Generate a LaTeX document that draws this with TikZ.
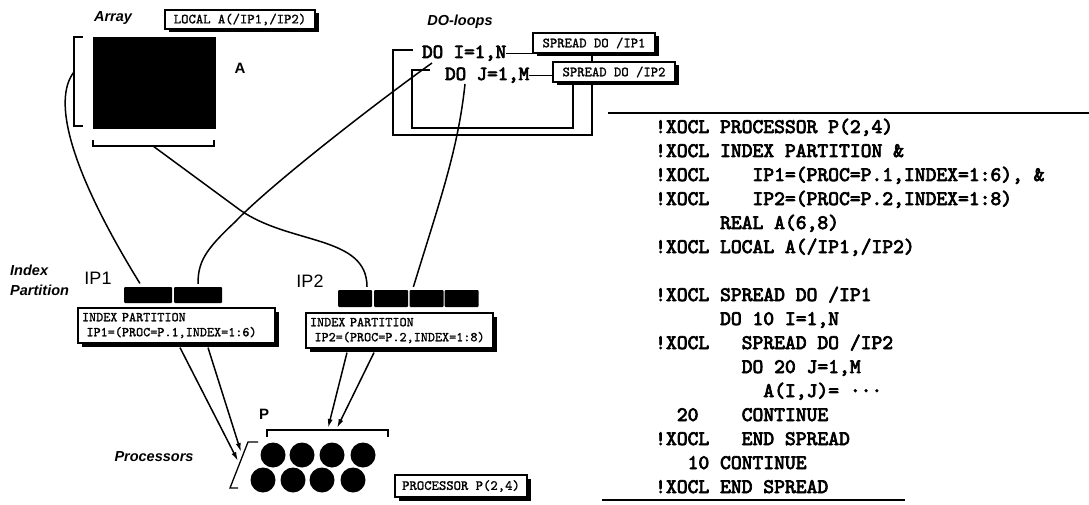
\documentclass[tikz,border=0pt]{standalone}
\usepackage{fontspec}
\setsansfont{Liberation Sans}
\newfontfamily\codefont{lmmono10-regular}[Extension=.otf, FakeBold=3.5]
\newfontfamily\tagfont{lmmono10-regular}[Extension=.otf, FakeBold=1.2]
\usetikzlibrary{arrows.meta}
\newcommand\boxshadow[4]{% cx, cy, w, h
  \fill[black] (#1-#3/2+3.5, #2-#4/2+3.5) rectangle (#1+#3/2+3.5, #2+#4/2+3.5);}
\begin{document}
\begin{tikzpicture}[x=1pt,y=-1pt,
  lbl/.style={font=\sffamily\bfseries\itshape\fontsize{14.5}{20}\selectfont, inner sep=0},
  biglbl/.style={font=\sffamily\fontsize{18}{20}\selectfont, inner sep=0},
  boldlbl/.style={font=\sffamily\bfseries\fontsize{15}{18}\selectfont, inner sep=0},
  tag/.style={draw, line width=1.2pt, fill=white, inner sep=0, font=\tagfont\fontsize{14}{15}\selectfont},
  iptag/.style={tag, font=\tagfont\fontsize{13.5}{15}\selectfont, align=left, minimum height=35pt, inner xsep=4pt},
  blk/.style={fill=black, rounded corners=1pt, inner sep=0},
  conn/.style={line width=1.5pt},
  brk/.style={line width=1.3pt},
  arr/.style={conn, -{Latex[length=9pt,width=5pt]}},
  code/.style={anchor=base west, inner sep=0, font=\codefont\fontsize{20.6}{24}\selectfont},
  doline/.style={anchor=base west, inner sep=0, font=\codefont\fontsize{20}{24}\selectfont},
  proc/.style={circle, fill=black, minimum size=25pt, inner sep=0}
]
\useasboundingbox (0,0) rectangle (1089,505);

% ---------- Array ----------
\node[lbl] (array) at (113,18) {Array};
\boxshadow{240}{19.5}{150}{19}
\node[tag, minimum width=150pt, minimum height=19pt] (local) at (240,19.5) {LOCAL A(/IP1,/IP2)};
\node[fill=black, inner sep=0, minimum width=123pt, minimum height=92pt] (arraysq) at (154.5,83) {};
\node[boldlbl] (Alab) at (240,68) {A};
\draw[brk] (83,37) -- (74,37) -- (74,126) -- (83,126);
\draw[brk] (93,140) -- (93,146) -- (214,146) -- (214,140);
\coordinate (lb) at (74,72);
\coordinate (bb) at (153,146);

% ---------- DO loops ----------
\node[lbl] (doloops) at (460,22) {DO-loops};
\node[doline] (do1) at (422,58) {DO I=1,N};
\node[doline] (do2) at (445,80) {DO J=1,M};
\draw[brk] (413,50) -- (393,50) -- (393,135) -- (592,135) -- (592,53);
\draw[brk] (430,70) -- (412,70) -- (412,128) -- (573,128) -- (573,82);
\boxshadow{594}{43}{122}{20}
\node[tag, minimum width=122pt, minimum height=20pt] (sp1) at (594,43) {SPREAD DO /IP1};
\boxshadow{614}{72}{122}{20}
\node[tag, minimum width=122pt, minimum height=20pt] (sp2) at (614,72) {SPREAD DO /IP2};
\draw[brk] (do1.east) -- (do1.east -| sp1.west);
\draw[brk] (do2.east) -- (do2.east -| sp2.west);
\coordinate (doI) at (432,63);
\coordinate (doJ) at (465,84);

% ---------- Index partitions ----------
\node[lbl, align=left, anchor=north west] (ipart) at (10,265) {Index\\Partition};
\node[biglbl] (ip1) at (98,278) {IP1};
\node[blk, minimum width=48pt, minimum height=16pt] (b11) at (148,295) {};
\node[blk, minimum width=48pt, minimum height=16pt] (b12) at (198,295) {};
\boxshadow{176.5}{325.5}{197}{35}
\node[iptag, text width=189pt] (ipb1) at (176.5,325.5) {INDEX PARTITION\\~IP1=(PROC=P.1,INDEX=1:6)};

\node[biglbl] (ip2) at (310,281) {IP2};
\node[blk, minimum width=34pt, minimum height=17pt] (b21) at (355,298.5) {};
\node[blk, minimum width=34pt, minimum height=17pt] (b22) at (391,298.5) {};
\node[blk, minimum width=34pt, minimum height=17pt] (b23) at (426.5,298.5) {};
\node[blk, minimum width=34pt, minimum height=17pt] (b24) at (461.5,298.5) {};
\boxshadow{399.5}{330.5}{187}{35}
\node[iptag, text width=179pt] (ipb2) at (399.5,330.5) {INDEX PARTITION\\~IP2=(PROC=P.2,INDEX=1:8)};

% ---------- Processors ----------
\node[boldlbl] (Plab) at (264,414) {P};
\draw[brk] (267,437) -- (267,430) -- (388,430) -- (388,437);
\draw[brk] (258,442) -- (248,442) -- (230,488) -- (238,488);
\node[proc] (p11) at (273,455) {};
\node[proc] (p12) at (302,455) {};
\node[proc] (p13) at (332,455) {};
\node[proc] (p14) at (363,455) {};
\node[proc] (p21) at (263,480) {};
\node[proc] (p22) at (293,480) {};
\node[proc] (p23) at (322,480) {};
\node[proc] (p24) at (353,480) {};
\node[lbl] (procs) at (154,457) {Processors};
\boxshadow{461}{486}{132}{22}
\node[tag, minimum width=132pt, minimum height=22pt] (procbox) at (461,486) {PROCESSOR P(2,4)};
\coordinate (pl1) at (238,461);
\coordinate (pl2) at (241,452);
\coordinate (pt1) at (328,428);
\coordinate (pt2) at (337,428);

% ---------- connectors ----------
\draw[conn, shorten >=4pt] (lb) .. controls (52,100) and (70,170) .. ([xshift=-6pt]b11.north);
\draw[conn, shorten >=3pt] (bb) -- (240,210) .. controls (290,245) and (367,235) .. ([xshift=12pt]b21.north);
\draw[conn, shorten >=3pt] (doI) .. controls (380,100) and (270,185) .. (235,222) .. controls (205,250) and (198,262) .. (b12.north);
\draw[conn, shorten >=3pt] (doJ) .. controls (458,150) and (440,200) .. ([xshift=-14pt]b23.north);

\draw[arr] ([xshift=3.5pt,yshift=-4pt]ipb1.south) -- (pl1);
\draw[arr] ([xshift=31.5pt,yshift=-4pt]ipb1.south) -- (pl2);
\draw[arr] ([xshift=-52.5pt,yshift=-4pt]ipb2.south) -- (pt1);
\draw[arr] ([xshift=-25.5pt,yshift=-4pt]ipb2.south) -- (pt2);

% ---------- code listing ----------
\draw[line width=1.2pt] (608,113) coordinate (rt1) -- (1089,113) coordinate (rt2);
\node[code] (c1) at (655,133) {!XOCL PROCESSOR P(2,4)};
\node[code] (c2) at (655,157) {!XOCL INDEX PARTITION \&};
\node[code] (c3) at (655,181) {!XOCL~~~~IP1=(PROC=P.1,INDEX=1:6),~\&};
\node[code] (c4) at (655,205) {!XOCL~~~~IP2=(PROC=P.2,INDEX=1:8)};
\node[code] (c5) at (655,229) {~~~~~~REAL A(6,8)};
\node[code] (c6) at (655,253) {!XOCL LOCAL A(/IP1,/IP2)};
\node[code] (c8) at (655,301) {!XOCL SPREAD DO /IP1};
\node[code] (c9) at (655,325) {~~~~~~DO 10 I=1,N};
\node[code] (c10) at (655,349) {!XOCL~~~SPREAD DO /IP2};
\node[code] (c11) at (655,373) {~~~~~~~~DO 20 J=1,M};
\node[code] (c12) at (655,397) {~~~~~~~~~~A(I,J)=~···};
\node[code] (c13) at (655,421) {~~20~~~~CONTINUE};
\node[code] (c14) at (655,445) {!XOCL~~~END SPREAD};
\node[code] (c15) at (655,469) {~~~10 CONTINUE};
\node[code] (c16) at (655,493) {!XOCL END SPREAD};
\draw[line width=1.2pt] (602,500) coordinate (rb1) -- (905,500) coordinate (rb2);
\end{tikzpicture}
\end{document}
